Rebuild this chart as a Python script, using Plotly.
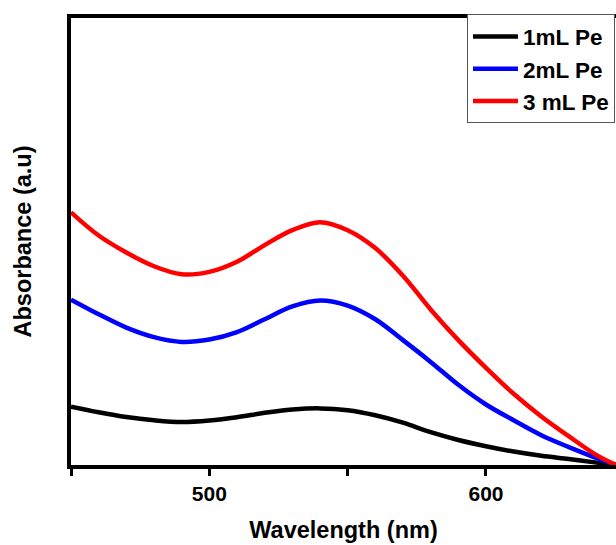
import plotly.graph_objects as go

# wavelength grid (nm)
wavelength = [450, 460, 470, 480, 490, 500, 510, 520, 530, 540, 550,
              560, 570, 580, 590, 600, 610, 620, 630, 640, 647]

# absorbance (a.u.), estimated from the curves
abs_1ml = [0.196, 0.177, 0.161, 0.150, 0.144, 0.149, 0.160, 0.175, 0.186, 0.190, 0.184,
           0.167, 0.142, 0.110, 0.084, 0.063, 0.045, 0.031, 0.020, 0.008, 0.0]
abs_2ml = [0.555, 0.506, 0.461, 0.429, 0.413, 0.421, 0.446, 0.489, 0.532, 0.552, 0.535,
           0.489, 0.419, 0.346, 0.269, 0.203, 0.150, 0.100, 0.060, 0.023, 0.0]
abs_3ml = [0.848, 0.770, 0.713, 0.667, 0.640, 0.648, 0.682, 0.738, 0.788, 0.815, 0.788,
           0.728, 0.635, 0.522, 0.419, 0.326, 0.239, 0.163, 0.096, 0.033, 0.0]

series_names = ['1mL Pe', '2mL Pe', '3 mL Pe']
series_colors = ['#000000', '#0000FF', '#FF0000']

x_tickvals = [450, 500, 550, 600, 650]
x_ticktext = ['', '500', '', '600', '']

FONT = 'Liberation Sans, Arial, sans-serif'

fig = go.Figure()
for name, ys, color in zip(series_names, [abs_1ml, abs_2ml, abs_3ml], series_colors):
    fig.add_trace(go.Scatter(
        x=wavelength, y=ys,
        mode='lines', name=name, legendgroup=name,
        line=dict(color=color, width=4.5, shape='spline', smoothing=1.0),
    ))

fig.update_layout(
    width=616, height=545,
    margin=dict(l=71, r=0, t=18, b=80),
    paper_bgcolor='white',
    plot_bgcolor='white',
    font=dict(family=FONT, color='black', size=18),
    showlegend=True,
    legend=dict(
        x=0.7266, y=1.008, xanchor='left', yanchor='top',
        bgcolor='white', bordercolor='#555555', borderwidth=1,
        font=dict(family=FONT, size=22.5, color='black', weight='bold'),
        tracegroupgap=0,
        itemwidth=45,
    ),
    xaxis=dict(
        range=[450, 647],
        tickvals=x_tickvals, ticktext=x_ticktext,
        ticks='outside', ticklen=7, tickwidth=3, tickcolor='black',
        showline=True, linewidth=4, linecolor='black', mirror=True,
        showgrid=False, zeroline=False,
        tickfont=dict(family=FONT, size=21, color='black', weight='bold'),
        title=dict(text='Wavelength (nm)', standoff=18,
                   font=dict(family=FONT, size=23.5, color='black', weight='bold')),
    ),
    yaxis=dict(
        range=[0, 1.5],
        showticklabels=False, ticks='',
        showline=True, linewidth=4, linecolor='black',
        showgrid=False, zeroline=False,
        title=dict(text='Absorbance (a.u)', standoff=30,
                   font=dict(family=FONT, size=23.5, color='black', weight='bold')),
    ),
)

fig.write_html('out.html', config={'displayModeBar': False},
               post_script="document.body.style.margin='0px';")
